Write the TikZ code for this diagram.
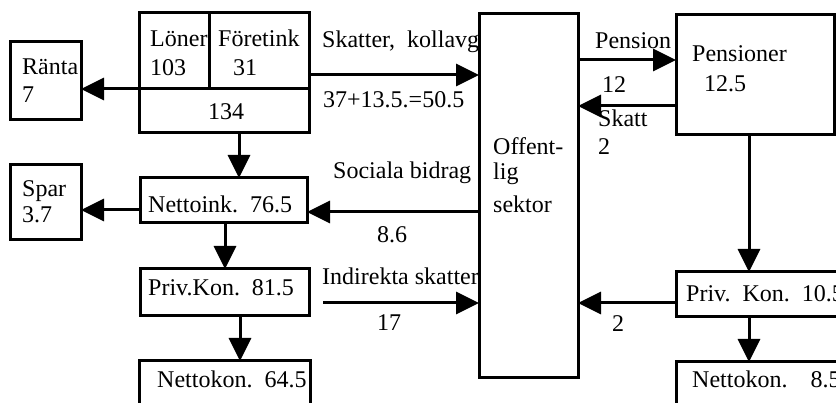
\documentclass[tikz,border=0pt]{standalone}
\usepackage{fontspec}
\setmainfont{Liberation Serif}
\usetikzlibrary{arrows.meta}
\begin{document}
\begin{tikzpicture}[x=1pt,y=-1pt,
  box/.style={draw, line width=3pt, rectangle, inner sep=0pt, outer sep=0pt, anchor=north west},
  flow/.style={line width=3pt, -{Triangle[length=23pt,width=22pt]}},
  lbl/.style={anchor=base west, inner sep=0pt, font=\fontsize{24}{28}\selectfont},
  ]
\useasboundingbox (0,0) rectangle (836,403);
\clip (0,0) rectangle (836,403);

% boxes
\node[box, minimum width=170pt, minimum height=120pt] (inc)   at (139,13)  {};
\node[box, minimum width=71pt,  minimum height=78pt]  (ranta) at (10,42)   {};
\node[box, minimum width=71pt,  minimum height=75pt]  (spar)  at (10,165)  {};
\node[box, minimum width=167pt, minimum height=45pt]  (ni)    at (140,178) {};
\node[box, minimum width=169pt, minimum height=47pt]  (pk)    at (140,269) {};
\node[box, minimum width=171pt, minimum height=60pt]  (nk)    at (139,361) {};
\node[box, minimum width=99pt,  minimum height=364pt] (off)   at (479,14)  {};
\node[box, minimum width=158pt, minimum height=120pt] (pens)  at (676,15)  {};
\node[box, minimum width=180pt, minimum height=45pt]  (pkr)   at (676,272) {};
\node[box, minimum width=180pt, minimum height=60pt]  (nkr)   at (676,362) {};

% inner divisions of the income box
\coordinate (divL) at ([yshift=-16pt]inc.west);
\coordinate (divT) at ([xshift=-15pt]inc.north);
\draw[line width=3pt] (divL) -- (divL -| inc.east);
\draw[line width=3pt] (divT) -- (divT |- divL);

% flows on the left
\draw[flow] (divL) -- (divL -| ranta.east);
\coordinate (sk) at ([yshift=-2pt]inc.east);
\draw[flow] (sk) -- (sk -| off.west);
\coordinate (d1) at ([xshift=15pt]inc.south);
\draw[flow] (d1) -- (d1 |- ni.north);
\coordinate (sp) at ([yshift=-9.5pt]ni.west);
\draw[flow] (sp) -- (sp -| spar.east);
\coordinate (sb) at ([yshift=-11.5pt]ni.east);
\draw[flow] (sb -| off.west) -- (sb);
\coordinate (d2) at ([xshift=1.5pt]ni.south);
\draw[flow] (d2) -- (d2 |- pk.north);
\coordinate (d3) at ([xshift=15.5pt]pk.south);
\draw[flow] (d3) -- (d3 |- nk.north);
\coordinate (ind) at ([xshift=14pt,yshift=-10.5pt]pk.east);
\draw[flow] (ind) -- (ind -| off.west);

% flows on the right
\coordinate (pe) at ([yshift=15pt]pens.west);
\draw[flow] (pe -| off.east) -- (pe);
\coordinate (st) at ([yshift=-31pt]pens.west);
\draw[flow] (st) -- (st -| off.east);
\coordinate (d4) at ([xshift=-6pt]pens.south);
\draw[flow] (d4) -- (d4 |- pkr.north);
\coordinate (pr) at ([yshift=-8.5pt]pkr.west);
\draw[flow] (pr) -- (pr -| off.east);
\draw[flow] (d4 |- pkr.south) -- (d4 |- nkr.north);

% texts
\node[lbl] (t1)  at (150,47)  {Löner};
\node[lbl] (t2)  at (150,76)  {103};
\node[lbl] (t3)  at (218,47)  {Företink};
\node[lbl] (t4)  at (233,76)  {31};
\node[lbl, anchor=base] (t5) at (226,120) {134};
\node[lbl] (t6)  at (22,75)   {Ränta};
\node[lbl] (t7)  at (22,103)  {7};
\node[lbl] (t8)  at (22,197)  {Spar};
\node[lbl] (t9)  at (22,223)  {3.7};
\node[lbl] (t10) at (148,213) {Nettoink.\hspace{0.5em}76.5};
\node[lbl] (t11) at (148,296) {Priv.Kon.\hspace{0.5em}81.5};
\node[lbl] (t12) at (157,388) {Nettokon.\hspace{0.5em}64.5};
\node[lbl] (t13) at (322,48)  {Skatter,\hspace{0.5em}kollavg};
\node[lbl] (t14) at (323,108) {37+13.5.=50.5};
\node[lbl] (t15) at (333,179) {Sociala bidrag};
\node[lbl] (t16) at (377,243) {8.6};
\node[lbl] (t17) at (322,285) {Indirekta skatter};
\node[lbl] (t18) at (377,331) {17};
\node[lbl] (t19) at (493,155) {Offent-};
\node[lbl] (t20) at (493,180) {lig};
\node[lbl] (t21) at (493,213) {sektor};
\node[lbl] (t22) at (595,49)  {Pension};
\node[lbl] (t23) at (602,93)  {12};
\node[lbl] (t24) at (598,127) {Skatt};
\node[lbl] (t25) at (598,155) {2};
\node[lbl] (t26) at (692,62)  {Pensioner};
\node[lbl] (t27) at (704,92)  {12.5};
\node[lbl] (t28) at (686,302) {Priv.\hspace{0.5em}Kon.\hspace{0.5em}10.5};
\node[lbl] (t29) at (612,332) {2};
\node[lbl] (t30) at (692,388) {Nettokon.\hspace{23pt}8.5};
\end{tikzpicture}
\end{document}
